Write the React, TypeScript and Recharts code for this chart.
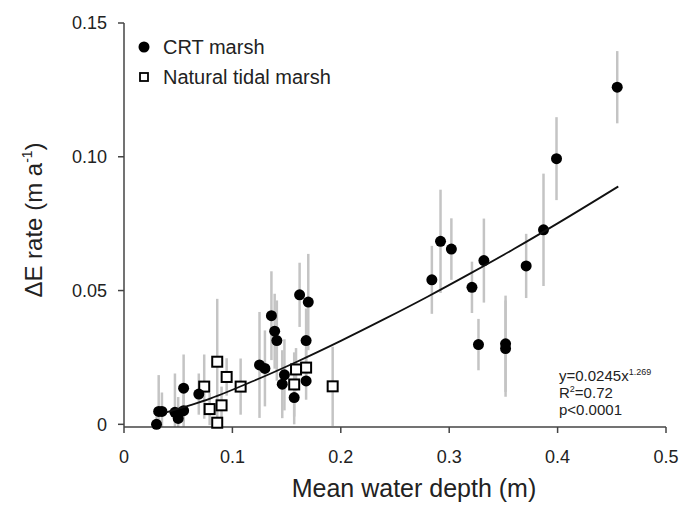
import React from "react";
import {
  ScatterChart,
  Scatter,
  XAxis,
  YAxis,
  ErrorBar,
  Customized,
} from "recharts";

// CRT marsh (filled circles)
const crtDepth = [
  0.030, 0.032, 0.035, 0.047, 0.050, 0.055, 0.055, 0.069, 0.125, 0.130, 0.136,
  0.139, 0.141, 0.148, 0.146, 0.157, 0.162, 0.170, 0.168, 0.168, 0.284, 0.292,
  0.302, 0.321, 0.332, 0.327, 0.352, 0.352, 0.371, 0.387, 0.399, 0.455,
];
const crtRate = [
  0.0, 0.0048, 0.0048, 0.0045, 0.0022, 0.0051, 0.0135, 0.0113, 0.0222, 0.0209,
  0.0406, 0.0348, 0.0313, 0.0185, 0.015, 0.01, 0.0484, 0.0457, 0.0313, 0.0162,
  0.054, 0.0684, 0.0655, 0.0512, 0.0612, 0.0298, 0.0301, 0.0283, 0.0592, 0.0727,
  0.0993, 0.126,
];
const crtErr = [
  0.003, 0.0136, 0.0071, 0.0145, 0.008, 0.006, 0.0126, 0.0077, 0.0198, 0.0142,
  0.0166, 0.014, 0.015, 0.0133, 0.0127, 0.01, 0.012, 0.018, 0.012, 0.007,
  0.0127, 0.0193, 0.0115, 0.0096, 0.0157, 0.0096, 0.018, 0.018, 0.012, 0.021,
  0.0155, 0.0135,
];

// Natural tidal marsh (open squares)
const natDepth = [
  0.074, 0.086, 0.0947, 0.079, 0.09, 0.086, 0.1076, 0.1587, 0.157, 0.168, 0.1925,
];
const natRate = [
  0.0141, 0.0234, 0.0177, 0.0057, 0.0071, 0.0006, 0.0141, 0.0205, 0.0149, 0.0212,
  0.0142,
];
const natErr = [
  0.012, 0.0235, 0.007, 0.006, 0.007, 0.002, 0.0105, 0.008, 0.012, 0.007, 0.0148,
];

// fitted curve
const fitDepth = [0.039, 0.08, 0.12, 0.16, 0.2, 0.24, 0.28, 0.32, 0.36, 0.4, 0.456];
const fitRate = [
  0.0045, 0.0097, 0.0163, 0.0235, 0.0312, 0.0393, 0.0477, 0.0565, 0.0656, 0.0751,
  0.0889,
];

const xTicks = [0, 0.1, 0.2, 0.3, 0.4, 0.5];
const yTicks = [0, 0.05, 0.1, 0.15];

const FONT = "'Liberation Sans', Arial, sans-serif";

const toPoints = (xs: number[], ys: number[], es?: number[]) =>
  xs.map((x, i) => ({
    x,
    y: ys[i],
    err: es ? [Math.min(es[i], ys[i] + 0.001), es[i]] : 0,
  }));

const crtData = toPoints(crtDepth, crtRate, crtErr);
const natData = toPoints(natDepth, natRate, natErr);
const fitData = toPoints(fitDepth, fitRate);

const Dot = (p: any) => <circle cx={p.cx} cy={p.cy} r={5.5} fill="#000" />;
const Box = (p: any) => (
  <rect
    x={p.cx - 5}
    y={p.cy - 5}
    width={10}
    height={10}
    fill="#fff"
    stroke="#000"
    strokeWidth={2}
  />
);
const Nothing = () => <g />;

const Overlay = () => (
  <g fontFamily={FONT} fill="#222">
    {/* legend */}
    <circle cx={144} cy={47} r={5.5} fill="#000" />
    <text x={163} y={54} fontSize={20}>
      CRT marsh
    </text>
    <rect x={140} y={73} width={8} height={8} fill="#fff" stroke="#000" strokeWidth={1.8} />
    <text x={163} y={84} fontSize={20}>
      Natural tidal marsh
    </text>

    {/* regression note */}
    <text x={559} y={381} fontSize={15}>
      y=0.0245x
      <tspan fontSize={9} dy={-6}>
        1.269
      </tspan>
    </text>
    <text x={559} y={398} fontSize={15}>
      R
      <tspan fontSize={9} dy={-6}>
        2
      </tspan>
      <tspan dy={6}>=0.72</tspan>
    </text>
    <text x={559} y={415} fontSize={15}>
      p&lt;0.0001
    </text>

    {/* axis titles */}
    <text x={414} y={497} fontSize={25} textAnchor="middle">
      Mean water depth (m)
    </text>
    <text
      x={42}
      y={220}
      fontSize={24}
      textAnchor="middle"
      transform="rotate(-90, 42, 220)"
    >
      ΔE rate (m a
      <tspan fontSize={14} dy={-10}>
        -1
      </tspan>
      <tspan dy={10}>)</tspan>
    </text>
  </g>
);

export default function App() {
  const tick = { fontSize: 18, fill: "#222", fontFamily: FONT };
  return (
    <div style={{ position: "absolute", left: 0, top: 0, background: "#fff" }}>
      <ScatterChart
        width={683}
        height={505}
        margin={{ top: 23, right: 17, bottom: 0, left: 0 }}
      >
        <XAxis
          type="number"
          dataKey="x"
          domain={[0, 0.5]}
          ticks={xTicks}
          tickFormatter={(v: number) => (v === 0 ? "0" : v.toFixed(1))}
          height={78}
          tick={tick}
          tickSize={6}
          tickMargin={17}
          axisLine={{ stroke: "#444", strokeWidth: 1.5 }}
          tickLine={{ stroke: "#444", strokeWidth: 1.5 }}
        />
        <XAxis
          xAxisId="top"
          orientation="top"
          type="number"
          domain={[0, 0.5]}
          height={0}
          tick={false}
          tickLine={false}
          axisLine={{ stroke: "#777", strokeWidth: 2 }}
        />
        <YAxis
          type="number"
          dataKey="y"
          domain={[0, 0.15]}
          ticks={yTicks}
          tickFormatter={(v: number) => (v === 0 ? "0" : v.toFixed(2))}
          width={124}
          tick={tick}
          tickSize={6}
          tickMargin={11}
          axisLine={{ stroke: "#444", strokeWidth: 1.5 }}
          tickLine={{ stroke: "#444", strokeWidth: 1.5 }}
        />
        <YAxis
          yAxisId="right"
          orientation="right"
          type="number"
          domain={[0, 0.15]}
          width={0}
          tick={false}
          tickLine={false}
          axisLine={{ stroke: "#777", strokeWidth: 2 }}
        />
        <Scatter
          data={natData}
          shape={Box}
          isAnimationActive={false}
        >
          <ErrorBar
            dataKey="err"
            direction="y"
            width={0}
            stroke="#c4c4c4"
            strokeWidth={2.5}
            isAnimationActive={false}
          />
        </Scatter>
        <Scatter
          data={crtData}
          shape={Dot}
          isAnimationActive={false}
        >
          <ErrorBar
            dataKey="err"
            direction="y"
            width={0}
            stroke="#c4c4c4"
            strokeWidth={2.5}
            isAnimationActive={false}
          />
        </Scatter>
        <Scatter
          data={fitData}
          shape={Nothing}
          line={{ stroke: "#111", strokeWidth: 1.8 }}
          lineJointType="monotoneX"
          isAnimationActive={false}
        />
        <Customized component={Overlay} />
      </ScatterChart>
    </div>
  );
}
